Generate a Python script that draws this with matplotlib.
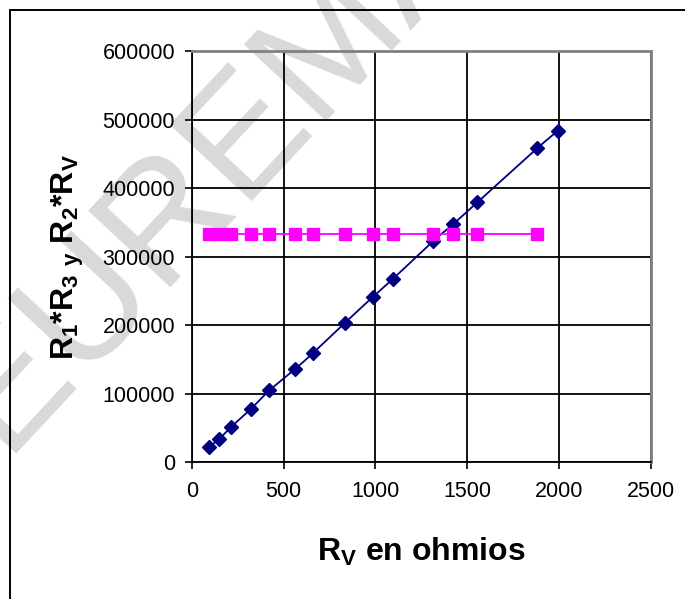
import numpy as np
import matplotlib.pyplot as plt
from matplotlib.patches import Rectangle

plt.rcParams['font.family'] = ['Liberation Sans', 'DejaVu Sans']
plt.rcParams['mathtext.fontset'] = 'custom'
plt.rcParams['mathtext.rm'] = 'Liberation Sans'
plt.rcParams['mathtext.bf'] = 'Liberation Sans:bold'

# R_V en ohmios
rv = [95, 150, 215, 323, 423, 564, 661, 834, 988, 1097, 1313, 1423, 1556, 1881, 1994]
# R2*RV
r2rv = [22800, 34500, 52000, 78200, 105000, 136500, 159700, 203500, 241800,
        268000, 322300, 347400, 379400, 458000, 483500]
# R1*R3 (constante)
rv_const = rv[:14]
r1r3 = [333000] * 14

xticks = [0, 500, 1000, 1500, 2000, 2500]
yticks = [0, 100000, 200000, 300000, 400000, 500000, 600000]


def catmull_rom(x, y, n=20):
    # curva suavizada tipo Excel a traves de los puntos
    p = np.column_stack([x, y]).astype(float)
    p = np.vstack([p[0], p, p[-1]])
    out = []
    t = np.linspace(0, 1, n, endpoint=False)[:, None]
    for i in range(1, len(p) - 2):
        p0, p1, p2, p3 = p[i - 1], p[i], p[i + 1], p[i + 2]
        m1 = (p2 - p0) / 2
        m2 = (p3 - p1) / 2
        h00 = 2 * t**3 - 3 * t**2 + 1
        h10 = t**3 - 2 * t**2 + t
        h01 = -2 * t**3 + 3 * t**2
        h11 = t**3 - t**2
        out.append(h00 * p1 + h10 * m1 + h01 * p2 + h11 * m2)
    out.append(p[-2][None, :])
    out = np.vstack(out)
    return out[:, 0], out[:, 1]


fig = plt.figure(figsize=(6.85, 5.99), dpi=100)

# marca de agua
fig.text(212 / 685, 1 - 168 / 599, 'EUREMA', fontsize=118, color='#d9d9d9', rotation=47,
         ha='center', va='center', rotation_mode='anchor', zorder=-1)

# marco del grafico
fig.patches.append(Rectangle((10 / 685, -0.1), 1.2, 1 - 10 / 599 + 0.1,
                             transform=fig.transFigure, fill=False,
                             edgecolor='black', lw=1.4))

ax = fig.add_axes([0.2799, 0.2279, 0.6701, 0.6870])
ax.set_facecolor('none')

sx, sy = catmull_rom(rv, r2rv)
ax.plot(sx, sy, color='#000080', lw=1.3, zorder=3)
ax.plot(rv, r2rv, ls='none', marker='D', ms=7.5, color='#000080', zorder=4)
ax.plot(rv_const, r1r3, color='#ff00ff', lw=1.3, marker='s', ms=8.5, zorder=5)

ax.set_xlim(0, 2500)
ax.set_ylim(0, 600000)
ax.set_xticks(xticks)
ax.set_xticklabels([str(v) for v in xticks])
ax.set_yticks(yticks)
ax.set_yticklabels([str(v) for v in yticks])
ax.tick_params(labelsize=15.5, direction='out', length=5, width=1.2, pad=7)
ax.tick_params(axis='x', pad=8)

ax.grid(True, color='black', lw=1.3)
ax.set_axisbelow(True)
ax.spines['left'].set_color('black')
ax.spines['bottom'].set_color('black')
ax.spines['left'].set_linewidth(1.3)
ax.spines['bottom'].set_linewidth(1.3)
ax.spines['top'].set_color('#808080')
ax.spines['right'].set_color('#808080')
ax.spines['top'].set_linewidth(2)
ax.spines['right'].set_linewidth(2)

ax.set_xlabel(r'$\mathbf{R_V}$ en ohmios', fontsize=23, fontweight='bold', labelpad=25)
ax.set_ylabel(r'$\mathbf{R_1{*}R_3\;{}_y\;R_2{*}R_V}$', fontsize=23, fontweight='bold', labelpad=12)

fig.savefig('out.png', dpi=100)
